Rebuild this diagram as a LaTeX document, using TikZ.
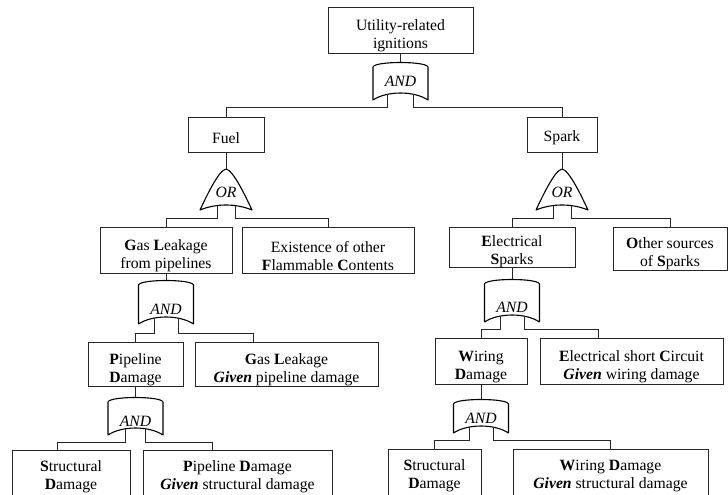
\documentclass[tikz,border=0pt]{standalone}
\usepackage{fontspec}
\setmainfont{Liberation Serif}
\usetikzlibrary{calc}
\newcommand\bx[5]{\node[box, minimum width={(#4-#2)*1pt}, minimum height={(#5-#3)*1pt}] (#1) at ({(#2+#4)/2},{(#3+#5)/2}) {};}
\newcommand\bt[3]{\node[txt] (#1-t) at ($(#1.center)+(0,#2)$) {#3};}
\newcommand\gv{\textbf{\textit{Given}}}
% AND gate: name, cx, top, bottom corner y, leg end y, label y, leg offset
\newcommand\andg[7]{%
 \path[gateline] (#2-27.5,#3+5) .. controls (#2-26,#3-1) and (#2+26,#3-1) .. (#2+27.5,#3+5)
   -- (#2+27.5,#4) .. controls (#2+13.5,#4-9.33) and (#2-13.5,#4-9.33) .. (#2-27.5,#4) -- cycle;
 \node[glbl] (#1) at (#2,#6) {AND};
 \coordinate (#1-in) at (#2,#3);
 \coordinate (#1-L) at (#2-#7,#4-5.8);
 \coordinate (#1-Le) at (#2-#7,#5);
 \coordinate (#1-R) at (#2+#7,#4-5.8);
 \coordinate (#1-Re) at (#2+#7,#5);
}
% OR gate: name, cx, top, bottom corner y, leg end y
\newcommand\org[5]{%
 \path[gateline] (#2-26,#4) .. controls (#2-19,#3+26) and (#2-7,#3+1) .. (#2,#3)
   .. controls (#2+7,#3+1) and (#2+19,#3+26) .. (#2+26,#4)
   .. controls (#2+10,#4-6.67) and (#2-10,#4-6.67) .. cycle;
 \node[glbl] (#1) at (#2,{(#3+#4)/2+3}) {OR};
 \coordinate (#1-in) at (#2,#3);
 \coordinate (#1-L) at (#2-9,#4-4.4);
 \coordinate (#1-Le) at (#2-9,#5);
 \coordinate (#1-R) at (#2+9,#4-4.4);
 \coordinate (#1-Re) at (#2+9,#5);
}
\begin{document}
\begin{tikzpicture}[x=1pt,y=-1pt,
 box/.style={draw=black!85, line width=0.8pt, rectangle, inner sep=0pt},
 txt/.style={align=center, inner sep=0pt, font=\fontsize{15.7}{18}\selectfont},
 gateline/.style={draw=black, line width=1.1pt, line join=round},
 glbl/.style={inner sep=0pt, font=\fontsize{15.7}{18}\selectfont\itshape},
 conn/.style={draw=black!85, line width=0.8pt}]
\useasboundingbox[fill=white] (0,0) rectangle (728,495);

% boxes
\bx{top}{328}{7}{473}{53}
\bx{fuel}{188}{117}{264}{152}
\bx{spark}{527}{117}{597}{152}
\bx{gas}{100}{227}{232}{273}
\bx{exist}{242}{227}{414}{273}
\bx{elec}{449}{227}{575}{267}
\bx{other}{613}{227}{727}{270}
\bx{pipe}{88}{342}{183}{386}
\bx{gasgiven}{195}{342}{378}{386}
\bx{wiring}{435}{338}{527}{384}
\bx{elecshort}{540}{338}{723}{384}
\bx{structL}{12}{450}{130}{505}
\bx{pdgiven}{143}{450}{332}{505}
\bx{structR}{388}{449}{481}{505}
\bx{wdgiven}{513}{449}{708}{505}

% texts
\bt{top}{6}{Utility-related\\ignitions}
\bt{fuel}{3.5}{Fuel}
\bt{spark}{3.5}{Spark}
\bt{gas}{6}{\textbf{G}as \textbf{L}eakage\\from pipelines}
\bt{exist}{6}{Existence of other\\\textbf{F}lammable \textbf{C}ontents}
\bt{elec}{5}{\textbf{E}lectrical\\\textbf{S}parks}
\bt{other}{5.5}{\textbf{O}ther sources\\of \textbf{S}parks}
\bt{pipe}{6}{\textbf{P}ipeline\\\textbf{D}amage}
\bt{gasgiven}{6}{\textbf{G}as \textbf{L}eakage\\\gv{} pipeline damage}
\bt{wiring}{6}{\textbf{W}iring\\\textbf{D}amage}
\bt{elecshort}{6}{\textbf{E}lectrical short \textbf{C}ircuit\\\gv{} wiring damage}
\bt{structL}{-1}{\textbf{S}tructural\\\textbf{D}amage}
\bt{pdgiven}{-1}{\textbf{P}ipeline \textbf{D}amage\\\gv{} structural damage}
\bt{structR}{-1}{\textbf{S}tructural\\\textbf{D}amage}
\bt{wdgiven}{-1}{\textbf{W}iring \textbf{D}amage\\\gv{} structural damage}

% gates
\andg{g0}{400.5}{62}{100}{107}{81}{13}
\org{orF}{226}{169}{210}{218}
\org{orS}{562}{169}{210}{218}
\andg{gA}{166}{280}{324}{333}{309}{12}
\andg{gB}{512}{279}{322}{329}{307}{12}
\andg{gC}{135.5}{397}{435}{442}{421}{10}
\andg{gD}{481}{399}{433}{440}{418}{12}

% connectors
\draw[conn] (top.south) -- (g0-in);
\draw[conn] (g0-L) -- (g0-Le) -| (fuel.north);
\draw[conn] (g0-R) -- (g0-Re) -| (spark.north);

\draw[conn] (fuel.south) -- (orF-in);
\draw[conn] (orF-L) -- (orF-Le) -| (gas.north);
\draw[conn] (orF-R) -- (orF-Re) -| (exist.north);

\draw[conn] (spark.south) -- (orS-in);
\draw[conn] (orS-L) -- (orS-Le) -| (elec.north);
\draw[conn] (orS-R) -- (orS-Re) -| (other.north);

\draw[conn] (gas.south) -- (gA-in);
\draw[conn] (gA-L) -- (gA-Le) -| (pipe.north);
\draw[conn] (gA-R) -- (gA-Re) -| ([xshift=-33pt]gasgiven.north);

\draw[conn] (elec.south) -- (gB-in);
\draw[conn] (gB-L) -- (gB-Le) -| (wiring.north);
\draw[conn] (gB-R) -- (gB-Re) -| ([xshift=-33pt]elecshort.north);

\draw[conn] (pipe.south) -- (gC-in);
\draw[conn] (gC-L) -- (gC-Le) -| ([xshift=-14pt]structL.north);
\draw[conn] (gC-R) -- (gC-Re) -| ([xshift=-25pt]pdgiven.north);

\draw[conn] (wiring.south) -- (gD-in);
\draw[conn] (gD-L) -- (gD-Le) -| (structR.north);
\draw[conn] (gD-R) -- (gD-Re) -| (wdgiven.north);
\end{tikzpicture}
\end{document}
